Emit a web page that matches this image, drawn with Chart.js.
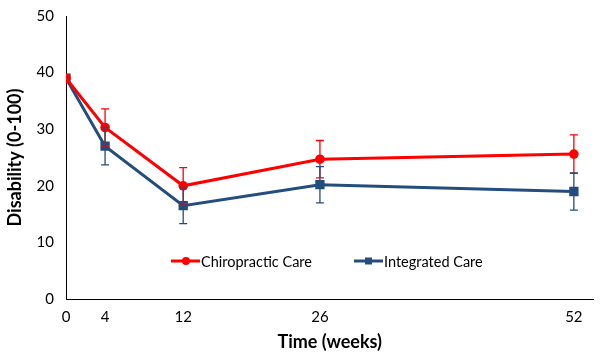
<!DOCTYPE html>
<html><head><meta charset="utf-8">
<script src="https://cdn.jsdelivr.net/npm/chart.js@4"></script>
<style>html,body{margin:0;padding:0;background:#fff}#w{width:600px;height:357px}</style>
</head><body><div id="w"><canvas id="c"></canvas></div>
<script>
const weeks = [0, 4, 12, 26, 52];
const xTicks = [0, 4, 12, 26, 52];
const yTicks = [0, 10, 20, 30, 40, 50];
const chiropractic = [39, 30.3, 20.0, 24.7, 25.6];
const chiropracticErr = [0, 3.3, 3.2, 3.3, 3.4];
const integrated = [39, 27.0, 16.5, 20.2, 19.0];
const integratedErr = [0, 3.3, 3.2, 3.2, 3.3];
const RED = '#FF0000', BLUE = '#234D7E';
const FONT = 'Lato, "Open Sans", sans-serif';

const errorBars = {
  id: 'errorBars',
  afterDatasetsDraw(chart) {
    const ctx = chart.ctx, xs = chart.scales.x, ys = chart.scales.y;
    const sets = [[chiropractic, chiropracticErr, RED], [integrated, integratedErr, BLUE]];
    ctx.save(); ctx.lineWidth = 1.3;
    sets.forEach(([vals, errs, col]) => {
      ctx.strokeStyle = col;
      vals.forEach((v, i) => {
        if (!errs[i]) return;
        const px = xs.getPixelForValue(weeks[i]);
        const t = ys.getPixelForValue(v + errs[i]), b = ys.getPixelForValue(v - errs[i]);
        ctx.beginPath();
        ctx.moveTo(px, t); ctx.lineTo(px, b);
        ctx.moveTo(px - 4, t); ctx.lineTo(px + 4, t);
        ctx.moveTo(px - 4, b); ctx.lineTo(px + 4, b);
        ctx.stroke();
      });
    });
    ctx.restore();
  }
};

const legendPlugin = {
  id: 'customLegend',
  afterDraw(chart) {
    const ctx = chart.ctx; ctx.save();
    const y = 261;
    const items = [[171, 'Chiropractic Care', RED, 'circle'], [354, 'Integrated Care', BLUE, 'rect']];
    ctx.font = '14.5px ' + FONT; ctx.textBaseline = 'middle';
    items.forEach(([x, label, col, shape]) => {
      ctx.strokeStyle = col; ctx.fillStyle = col; ctx.lineWidth = 3;
      ctx.beginPath(); ctx.moveTo(x, y); ctx.lineTo(x + 29, y); ctx.stroke();
      if (shape === 'circle') { ctx.beginPath(); ctx.arc(x + 15, y, 4, 0, Math.PI * 2); ctx.fill(); }
      else ctx.fillRect(x + 11, y - 3.5, 7, 7);
      ctx.fillStyle = '#000'; ctx.fillText(label, x + 30, y + 1);
    });
    ctx.restore();
  }
};

new Chart(document.getElementById('c'), {
  type: 'line',
  data: {
    datasets: [
      { label: 'Chiropractic Care', data: weeks.map((w, i) => ({x: w, y: chiropractic[i]})),
        borderColor: RED, backgroundColor: RED, borderWidth: 3, pointStyle: 'circle', pointRadius: 4.8, pointBorderWidth: 0, tension: 0 },
      { label: 'Integrated Care', data: weeks.map((w, i) => ({x: w, y: integrated[i]})),
        borderColor: BLUE, backgroundColor: BLUE, borderWidth: 3, pointStyle: 'rect', pointRadius: 6.6, pointBorderWidth: 0, tension: 0 }
    ]
  },
  options: {
    animation: false, responsive: true, maintainAspectRatio: false,
    layout: { padding: { top: 12, right: 2, left: 0, bottom: 0 } },
    plugins: { legend: { display: false }, tooltip: { enabled: false } },
    scales: {
      x: {
        type: 'linear', min: 0, max: 54,
        afterBuildTicks: s => { s.ticks = xTicks.map(v => ({value: v})); },
        afterFit: s => { s.height = 58; },
        grid: { display: false, drawTicks: false },
        border: { color: '#000', width: 1 },
        ticks: { color: '#000', font: { size: 15, family: FONT }, padding: 9, maxRotation: 0 },
        title: { display: true, text: 'Time (weeks)', color: '#000', font: { size: 18, weight: 'bold', family: FONT }, padding: { top: 6 } }
      },
      y: {
        min: 0, max: 50,
        afterBuildTicks: s => { s.ticks = yTicks.map(v => ({value: v})); },
        afterFit: s => { s.width = 66; },
        grid: { display: false, drawOnChartArea: false, drawTicks: true, tickLength: 5, tickColor: '#000' },
        border: { color: '#000', width: 1 },
        ticks: { color: '#000', font: { size: 15, family: FONT }, padding: 7 },
        title: { display: true, text: 'Disability (0-100)', color: '#000', font: { size: 18, weight: 'bold', family: FONT }, padding: { bottom: 4 } }
      }
    }
  },
  plugins: [errorBars, legendPlugin]
});
</script></body></html>
